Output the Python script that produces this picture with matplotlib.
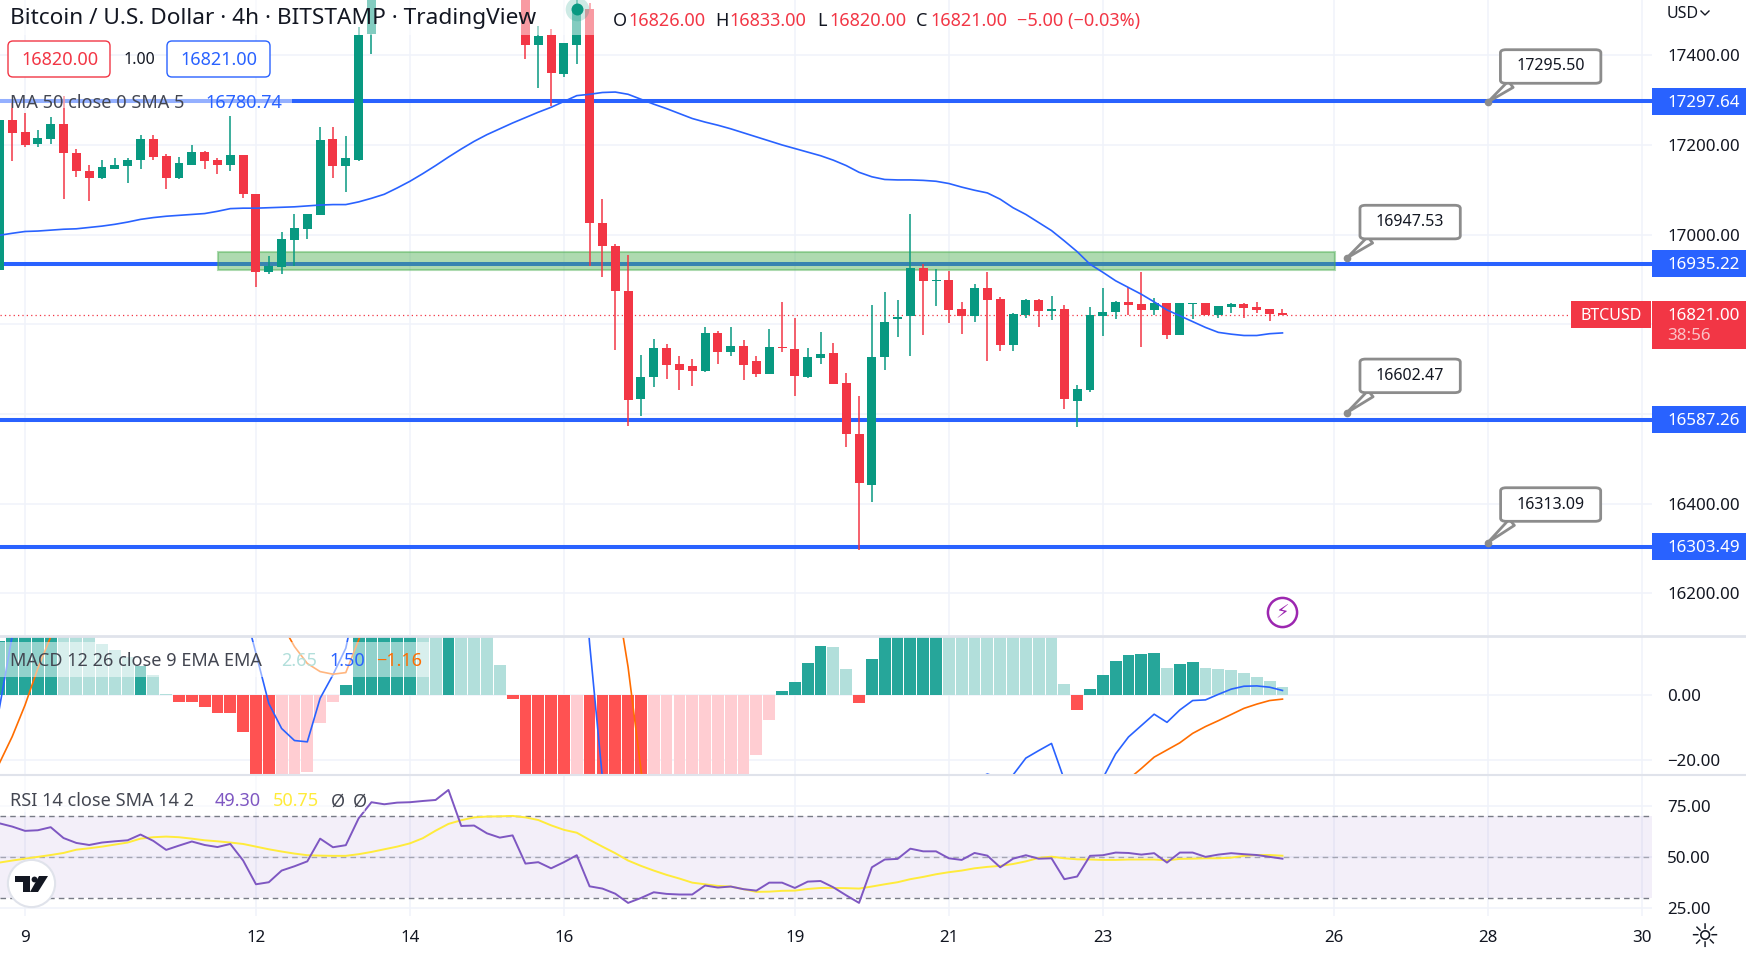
import numpy as np
import matplotlib.pyplot as plt
from matplotlib.lines import Line2D
from matplotlib.patches import FancyBboxPatch, Polygon, Rectangle
from matplotlib.transforms import IdentityTransform

plt.rcParams['font.family'] = ['Noto Sans', 'DejaVu Sans']

W = 1746
H = 958
pane_right = 1652 / W
blue = '#2962ff'
green = '#089981'
red = '#f23645'
text_col = '#131722'

#####candles: bar number, open, high, low, close#####
candles = [(-2, 16921, 17270, 16905, 17256), (-1, 17256, 17293, 17165, 17227), (0, 17230, 17271, 17196, 17200),
           (1, 17203, 17233, 17196, 17216), (2, 17214, 17263, 17203, 17247), (3, 17247, 17310, 17079, 17181),
           (4, 17183, 17190, 17128, 17141), (5, 17141, 17156, 17074, 17127), (6, 17127, 17167, 17123, 17150),
           (7, 17147, 17172, 17147, 17156), (8, 17154, 17170, 17116, 17167), (9, 17167, 17223, 17147, 17214),
           (10, 17214, 17223, 17167, 17174), (11, 17176, 17179, 17101, 17127), (12, 17127, 17174, 17125, 17159),
           (13, 17156, 17199, 17156, 17185), (14, 17185, 17187, 17147, 17165), (15, 17167, 17170, 17136, 17156),
           (16, 17156, 17264, 17143, 17178), (17, 17178, 17178, 17081, 17090), (18, 17090, 17090, 16883, 16916),
           (19, 16916, 16952, 16912, 16930), (20, 16927, 17005, 16912, 16990), (21, 16987, 17045, 16930, 17014),
           (22, 17012, 17045, 16990, 17045), (23, 17043, 17241, 17043, 17210), (24, 17214, 17239, 17127, 17152),
           (25, 17152, 17219, 17094, 17170), (26, 17167, 17463, 17165, 17446), (27, 17448, 17620, 17403, 17600),
           (39, 17600, 17620, 17392, 17423), (40, 17423, 17465, 17327, 17443), (41, 17445, 17459, 17287, 17361),
           (42, 17359, 17427, 17352, 17427), (43, 17423, 17560, 17381, 17504), (44, 17503, 17517, 16930, 17025),
           (45, 17027, 17079, 16906, 16974), (46, 16974, 16979, 16743, 16874), (47, 16874, 16954, 16574, 16632),
           (48, 16634, 16732, 16596, 16683), (49, 16683, 16767, 16661, 16747), (50, 16747, 16756, 16679, 16710),
           (51, 16712, 16730, 16654, 16699), (52, 16707, 16723, 16663, 16696), (53, 16696, 16794, 16694, 16781),
           (54, 16781, 16785, 16712, 16739), (55, 16739, 16794, 16730, 16752), (56, 16752, 16765, 16676, 16710),
           (57, 16719, 16730, 16683, 16690), (58, 16690, 16790, 16690, 16750), (59, 16749, 16850, 16739, 16747),
           (60, 16745, 16814, 16641, 16685), (61, 16683, 16747, 16681, 16727), (62, 16725, 16783, 16712, 16734),
           (63, 16736, 16759, 16667, 16667), (64, 16670, 16692, 16527, 16556), (65, 16556, 16639, 16296, 16445),
           (66, 16441, 16843, 16403, 16727), (67, 16727, 16872, 16699, 16805), (68, 16812, 16854, 16772, 16816),
           (69, 16819, 17047, 16730, 16925), (70, 16925, 16935, 16776, 16896), (71, 16896, 16923, 16841, 16899),
           (72, 16899, 16919, 16803, 16832), (73, 16834, 16850, 16779, 16819), (74, 16819, 16890, 16805, 16881),
           (75, 16881, 16916, 16719, 16854), (76, 16856, 16861, 16741, 16754), (77, 16754, 16825, 16741, 16823),
           (78, 16821, 16856, 16814, 16854), (79, 16854, 16856, 16794, 16830), (80, 16830, 16863, 16810, 16834),
           (81, 16834, 16843, 16612, 16634), (82, 16630, 16665, 16572, 16656), (83, 16654, 16839, 16650, 16821),
           (84, 16819, 16881, 16774, 16827), (85, 16827, 16852, 16812, 16850), (86, 16850, 16883, 16821, 16843),
           (87, 16845, 16916, 16750, 16832), (88, 16832, 16859, 16821, 16847), (89, 16847, 16847, 16767, 16776),
           (90, 16776, 16847, 16776, 16847), (91, 16845, 16847, 16812, 16847), (92, 16847, 16847, 16821, 16821),
           (93, 16821, 16841, 16814, 16841), (94, 16838, 16847, 16825, 16845), (95, 16845, 16847, 16814, 16836),
           (96, 16838, 16850, 16825, 16832), (97, 16834, 16834, 16807, 16823), (98, 16826, 16833, 16820, 16821)]

bars = np.arange(-2, 99)
ma50 = [16998.5, 17003, 17007, 17008, 17010, 17012, 17013, 17016, 17019, 17023, 17028, 17034, 17038, 17041, 17043,
        17045, 17047, 17052, 17058, 17059, 17059, 17060, 17061, 17062, 17064, 17066, 17067, 17067, 17073, 17081,
        17090, 17104, 17119, 17136, 17154, 17173, 17191, 17208, 17223, 17236, 17249, 17261, 17273, 17284, 17297,
        17310, 17313, 17317, 17318, 17313, 17302, 17291, 17281, 17270, 17259, 17251, 17244, 17236, 17227, 17218,
        17209, 17200, 17192, 17184, 17176, 17166, 17154, 17139, 17129, 17123, 17122, 17122, 17121, 17119, 17114,
        17106, 17099, 17093, 17079, 17060, 17045, 17027, 17009, 16986, 16962, 16934, 16916, 16897, 16882, 16867,
        16850, 16832, 16819, 16806, 16793, 16782, 16778, 16775, 16775, 16779, 16780.74]

levels = [17297.64, 16935.22, 16587.26, 16303.49]
price_ticks = [16200, 16400, 16600, 16800, 17000, 17200, 17400]
price_labs = ['16200.00', '16400.00', '', '', '17000.00', '17200.00', '17400.00']  #two of them sit under the tags
date_pos = [0, 18, 30, 42, 60, 72, 84, 102, 114, 126]
date_lab = ['9', '12', '14', '16', '19', '21', '23', '26', '28', '30']

#####macd: histogram values are guessed where they leave the pane#####
hist = [16.7, 30, 30, 30, 30, 30, 30, 30, 15.8, 14, 11.9, 9.1, 6.3, 0.4, -2.05, -2.05, -3.6, -5.4, -5.4, -11.3, -30,
        -30, -30, -30, -23.6, -8.5, -2.05, 3.2, 30, 30, 30, 30, 30, 30, 30, 30, 30, 30, 30, 9.3, -1.1, -30, -30, -30,
        -30, -30, -30, -30, -30, -30, -30, -30, -30, -30, -30, -30, -30, -30, -30, -18.4, -7.6, 1.3, 4.1, 9.9, 15.2,
        14.9, 8.1, -2.4, 11.2, 30, 30, 30, 30, 30, 30, 30, 30, 30, 30, 30, 30, 30, 30, 3.5, -4.5, 1.9, 6.3, 10.6,
        12.4, 12.7, 13.0, 8.4, 9.6, 10.3, 8.4, 8.1, 7.8, 6.9, 5.6, 4.3, 2.65]
hist_kind = ('DDDDDPPPPPPDPP' + 'RRRRRRRR' + 'KKKKK' + 'DDDDDD' + 'PPDPPPP' + 'RRRRR' + 'K' + 'RRRRR' + 'KKKKKKKKKK'
             + 'DDDD' + 'PP' + 'R' + 'DDDDDD' + 'PPPPPPPPPP' + 'R' + 'DDDDDD' + 'P' + 'DD' + 'PPPPPPP')
hist_col = {'D': '#26a69a', 'P': '#b2dfdb', 'R': '#ff5252', 'K': '#ffcdd2'}

macd_pts = {-2: -4, -1: 18.3, 0: 40, 17: 28, 18: 12.9, 19: -2.5, 20: -10.2, 21: -13.9, 22: -14.3, 23: -0.9, 24: 6.3,
            25: 14.5, 26: 33, 43: 64, 44: 16, 45: -25.5, 46: -60, 73: -40, 74: -26, 75: -24.2, 76: -25.5, 77: -24.5,
            78: -19.3, 79: -17, 80: -14.8, 81: -26, 82: -30, 83: -28.6, 84: -25.5, 85: -18, 86: -12.8, 87: -9.3,
            88: -5.8, 89: -8.3, 90: -4.5, 91: -1.6, 92: -1.4, 93: 0.3, 94: 1.9, 95: 2.8, 96: 2.9, 97: 2.5, 98: 1.5}
signal_pts = {-2: -20.9, -1: -12.7, 0: -3, 1: 8.3, 2: 18, 3: 28, 20: 22, 21: 15, 22: 9.8, 23: 7.3, 24: 6.5, 25: 7,
              26: 17, 27: 28, 46: 33, 47: 8.7, 48: -22.7, 49: -55, 86: -25.8, 87: -22.5, 88: -19, 89: -16.8,
              90: -14.6, 91: -11.7, 92: -9.6, 93: -7.8, 94: -5.9, 95: -4, 96: -2.7, 97: -1.6, 98: -1.16}
macd_line = np.full(len(bars), np.nan)
signal_line = np.full(len(bars), np.nan)
for k in macd_pts:
    macd_line[k + 2] = macd_pts[k]
for k in signal_pts:
    signal_line[k + 2] = signal_pts[k]

#####rsi#####
rsi = [66.6, 65, 62.9, 63.2, 64.7, 59.4, 57, 56, 57.2, 57.8, 58.3, 61.1, 58, 53.6, 55.7, 57.7, 56, 55, 56.5, 48.4,
       36.8, 37.8, 43.5, 45.6, 48, 59.1, 54.9, 55.9, 69, 76.9, 75.9, 76.7, 76.9, 77.5, 78, 82.9, 65.3, 65.5, 61.7,
       59.6, 60.7, 46.9, 47.6, 44.6, 47.6, 51, 35.8, 34.7, 32.2, 27.7, 30.1, 32.9, 32.1, 31.8, 31.8, 36.2, 35.2,
       35.7, 34.4, 33.7, 37.6, 37.6, 35, 38.1, 38.4, 35.3, 31.4, 27.7, 45.1, 48.9, 49.2, 54.2, 52.9, 52.9, 49.5,
       48.7, 52.1, 50.8, 45.1, 49.3, 51, 49.3, 49.5, 39.3, 40.6, 50.7, 51, 52.3, 52.1, 51.3, 52, 47.4, 52.3, 52.3,
       50.2, 51.3, 52, 51.5, 51.1, 50.2, 49.3]
rsi_sma = [47.4, 48.4, 49.3, 50.2, 51.1, 52.1, 53.7, 54.4, 55.2, 56.2, 57.2, 59.1, 59.8, 60.1, 59.8, 59.1, 58.3, 57.8,
           57.2, 56.5, 55.2, 53.9, 52.8, 51.8, 51, 50.8, 50.7, 50.7, 51.5, 52.6, 53.9, 55.2, 56.8, 59.3, 63, 66.3,
           68.1, 69.5, 69.9, 70, 70.2, 69.5, 68.2, 65.6, 63.4, 62, 58.5, 55.2, 52, 48.4, 45.8, 43.5, 41.4, 39.6, 37.6,
           36.8, 36, 35.7, 34.4, 33.1, 33.2, 33.6, 33.7, 34.5, 35, 35, 34.9, 34.7, 35.7, 36.8, 37.8, 39.3, 40.4, 41.7,
           42.7, 43.5, 44.6, 45.3, 45.8, 46.7, 48, 49.7, 50.3, 49.5, 49, 48.9, 48.7, 48.7, 48.9, 48.9, 48.9, 48.5,
           49.2, 49.3, 49.5, 49.5, 49.8, 50.7, 51.1, 51.1, 50.75]

plt.figure(figsize=(W / 100, H / 100), dpi=100)

#####price pane#####
ax = plt.axes([0, 1 - 635 / H, pane_right, 635 / H])
for lv in levels:
    plt.axhline(lv, color=blue, lw=2.9, zorder=1)
plt.axhline(16821, color=red, lw=0.9, ls=(0, (1, 2.5)), zorder=1, xmax=1571 / 1652)
ax.add_patch(Rectangle((15.04, 16921), 87.06, 41, fc='#4caf50', ec='#4caf50', alpha=0.45, lw=1.5, zorder=2))

for idx, o, h, l, c in candles:
    col = green if c >= o else red
    plt.vlines(idx, l, h, color=col, lw=1.1, zorder=3)
    plt.bar(idx, max(abs(c - o), 3), bottom=min(o, c), width=0.7, color=col, lw=0, zorder=3)

plt.plot(bars, ma50, color=blue, lw=1.2, zorder=4)

plt.xlim(-1.95, 126.8)
plt.ylim(16107, 17523.3)
plt.xticks(date_pos, [])
plt.yticks(price_ticks, price_labs)
plt.grid(color='#f0f3fa', lw=1.1, zorder=0)
ax.set_axisbelow(True)
plt.tick_params(axis='both', length=0)
plt.tick_params(axis='y', left=False, labelleft=False, labelright=True, pad=11, labelsize=12.2, labelcolor=text_col)
for s in ax.spines.values():
    s.set_visible(False)

#legend background lets the candles shine through
plt.axhspan(17445, 17523.3, xmin=0, xmax=600 / 1652, color='white', alpha=0.5, lw=0, zorder=5)
plt.axhspan(17282, 17313, xmin=0, xmax=292 / 1652, color='white', alpha=0.5, lw=0, zorder=5)
plt.scatter([43.05], [17504], s=290, color='#089981', alpha=0.2, lw=0, zorder=6)
plt.scatter([43.05], [17504], s=74, color='#089981', lw=0, zorder=6)

#####callouts#####
callouts = [('17295.50', 114, 17295.5, 118.9, 17375), ('16947.53', 103, 16947.53, 107.95, 17028),
            ('16602.47', 103, 16602.47, 107.95, 16685), ('16313.09', 114, 16313.09, 118.9, 16398)]
for lab, x0, y0, x1, y1 in callouts:
    plt.plot([x0], [y0], 'o', ms=4.5, color='#8c8c8c', zorder=6)
    plt.annotate(lab, xy=(x0, y0), xytext=(x1, y1), ha='center', va='center', fontsize=11.5, color=text_col, zorder=7,
                 bbox=dict(boxstyle='round,pad=1.0,rounding_size=0.35', fc='white', ec='#8c8c8c', lw=2, mutation_aspect=0.55),
                 arrowprops=dict(arrowstyle='wedge,tail_width=0.5,shrink_factor=0.5', fc='white', ec='#8c8c8c', lw=2,
                                 shrinkA=0, shrinkB=0, relpos=(0.1, 0.0)))

#####price tags#####
tag_w = 94 / 1652
for lv in levels:
    ax.add_patch(Rectangle((1, lv - 30), tag_w, 60, transform=ax.get_yaxis_transform(), fc=blue, lw=0, clip_on=False, zorder=8))
    plt.text(1667 / 1652, lv - 3, '%.2f' % lv, transform=ax.get_yaxis_transform(), color='white', fontsize=12.2,
             fontweight='bold', va='center', zorder=9, clip_on=False)
ax.add_patch(Rectangle((1, 16745), tag_w, 107, transform=ax.get_yaxis_transform(), fc=red, lw=0, clip_on=False, zorder=8))
plt.text(1667 / 1652, 16818, '16821.00', transform=ax.get_yaxis_transform(), color='white', fontsize=12.2,
         fontweight='bold', va='center', zorder=9, clip_on=False)
plt.text(1667 / 1652, 16773, '38:56', transform=ax.get_yaxis_transform(), color='#fbc2c7', fontsize=12.2,
         fontweight='bold', va='center', zorder=9, clip_on=False)
ax.add_patch(Rectangle((1571 / 1652, 16791), 80 / 1652, 60, transform=ax.get_yaxis_transform(), fc=red, lw=0, zorder=8))
plt.text(1611 / 1652, 16819, 'BTCUSD', transform=ax.get_yaxis_transform(), color='white', fontsize=11.5,
         fontweight='bold', va='center', ha='center', zorder=9)

#bolt icon
plt.plot([98], [16158], 'o', ms=21, mfc='white', mec='#9c27b0', mew=1.8, zorder=6)
plt.text(98, 16156, '\u26a1', color='#9c27b0', fontsize=14, ha='center', va='center', family='DejaVu Sans', zorder=7)

#####macd pane#####
ax2 = plt.axes([0, 1 - 775 / H, pane_right, 139 / H])
plt.bar(bars, hist, width=0.92, color=[hist_col[k] for k in hist_kind], lw=0, zorder=2)
plt.plot(bars, macd_line, color=blue, lw=1.2, zorder=3)
plt.plot(bars, signal_line, color='#ff6d00', lw=1.2, zorder=3)
plt.axhspan(5.6, 16.5, xmin=0, xmax=429 / 1652, color='white', alpha=0.5, lw=0, zorder=5)
plt.xlim(-1.95, 126.8)
plt.ylim(-24.5, 18.25)
plt.xticks(date_pos, [])
plt.yticks([-20, 0], ['\u221220.00', '0.00'])
plt.grid(color='#f0f3fa', lw=1.1, zorder=0)
ax2.set_axisbelow(True)
plt.tick_params(axis='both', length=0)
plt.tick_params(axis='y', left=False, labelleft=False, labelright=True, pad=11, labelsize=12.2, labelcolor=text_col)
for s in ax2.spines.values():
    s.set_visible(False)

#####rsi pane#####
ax3 = plt.axes([0, 1 - 916 / H, pane_right, 141 / H])
plt.axhspan(30, 70, color='#7e57c2', alpha=0.09, lw=0, zorder=1)
plt.axhline(70, color='#787b86', lw=1, ls=(0, (4, 3)), zorder=2)
plt.axhline(50, color='#787b86', lw=1, ls=(0, (4, 3)), alpha=0.6, zorder=2)
plt.axhline(30, color='#787b86', lw=1, ls=(0, (4, 3)), zorder=2)
plt.plot(bars, rsi_sma, color='#ffeb3b', lw=1.4, zorder=4)
plt.plot(bars, rsi, color='#7e57c2', lw=1.4, zorder=4)
plt.axhspan(72, 90.2, xmin=0, xmax=365 / 1652, color='white', alpha=0.5, lw=0, zorder=5)
plt.plot([0.47], [37.3], 'o', ms=34, mfc='white', mec='#e0e3eb', mew=1.5, zorder=6)
plt.xlim(-1.95, 126.8)
plt.ylim(21.3, 90.2)
plt.xticks(date_pos, date_lab)
plt.yticks([25, 50, 75], ['25.00', '50.00', '75.00'])
plt.grid(color='#f0f3fa', lw=1.1, zorder=0)
ax3.set_axisbelow(True)
plt.tick_params(axis='both', length=0)
plt.tick_params(axis='y', left=False, labelleft=False, labelright=True, pad=11, labelsize=12.2, labelcolor=text_col)
plt.tick_params(axis='x', pad=10, labelsize=12.2, labelcolor=text_col)
for s in ax3.spines.values():
    s.set_visible(False)

#####figure level bits, positions in pixels#####
fig = plt.gcf()
fig.add_artist(Line2D([0, 1], [1 - 635.5 / H, 1 - 635.5 / H], color='#e0e3eb', lw=2))
fig.add_artist(Line2D([0, 1], [1 - 775 / H, 1 - 775 / H], color='#e0e3eb', lw=1.5))

#red and blue order boxes
fig.add_artist(FancyBboxPatch((8, H - 77), 102, 36, boxstyle='round,pad=0,rounding_size=5', fc='white', ec=red, lw=1,
                              transform=IdentityTransform(), zorder=3))
fig.add_artist(FancyBboxPatch((167, H - 77), 103, 36, boxstyle='round,pad=0,rounding_size=5', fc='white', ec=blue, lw=1,
                              transform=IdentityTransform(), zorder=3))

#tv logo
for shape in ([(15, 876), (30, 876), (30, 892), (23, 892), (23, 882), (15, 882)],
              [(39, 876), (48, 876), (38, 892), (30, 892)]):
    fig.add_artist(Polygon([(x / W, 1 - y / H) for x, y in shape], fc=text_col, lw=0, zorder=3))
fig.add_artist(Line2D([33.7 / W], [1 - 879 / H], marker='o', ms=4.2, mew=0, color=text_col, zorder=3))

legend_texts = [(10, 18.5, 'Bitcoin / U.S. Dollar \u00b7 4h \u00b7 BITSTAMP \u00b7 TradingView', text_col, 16.3),
                (613, 21, 'O', text_col, 13), (628, 21, '16826.00', red, 13), (715, 21, 'H', text_col, 13),
                (729.5, 21, '16833.00', red, 13), (817, 21, 'L', text_col, 13), (829, 21, '16820.00', red, 13),
                (916, 21, 'C', text_col, 13), (930, 21, '16821.00', red, 13),
                (1017, 21, '\u22125.00 (\u22120.03%)', red, 13),
                (21, 60, '16820.00', red, 13), (124, 60, '1.00', text_col, 11.5), (180, 60, '16821.00', blue, 13),
                (10, 102.5, 'MA 50 close 0 SMA 5', '#434651', 13), (205, 102.5, '16780.74', blue, 13),
                (10, 661.5, 'MACD 12 26 close 9 EMA EMA', '#434651', 13), (281, 661.5, '2.65', '#b2dfdb', 13),
                (329, 661.5, '1.50', blue, 13), (376, 661.5, '\u22121.16', '#ff6d00', 13),
                (10, 801.5, 'RSI 14 close SMA 14 2', '#434651', 13), (215, 801.5, '49.30', '#7e57c2', 13),
                (273, 801.5, '50.75', '#ffeb3b', 13), (331, 801.5, '\u00d8', '#434651', 13), (353, 801.5, '\u00d8', '#434651', 13),
                (1667, 14, 'USD', text_col, 11.5)]
for x, y, s, col, fs in legend_texts:
    plt.figtext(x / W, 1 - y / H, s, color=col, fontsize=fs, va='center', ha='left', zorder=4)

fig.add_artist(Line2D([1701 / W, 1705 / W, 1709 / W], [1 - 11 / H, 1 - 15 / H, 1 - 11 / H], color=text_col, lw=1))
plt.figtext(1704 / W, 1 - 937 / H, '\u263c', color=text_col, fontsize=24, family='DejaVu Sans', ha='center', va='center')

plt.savefig('out.png', dpi=100)
